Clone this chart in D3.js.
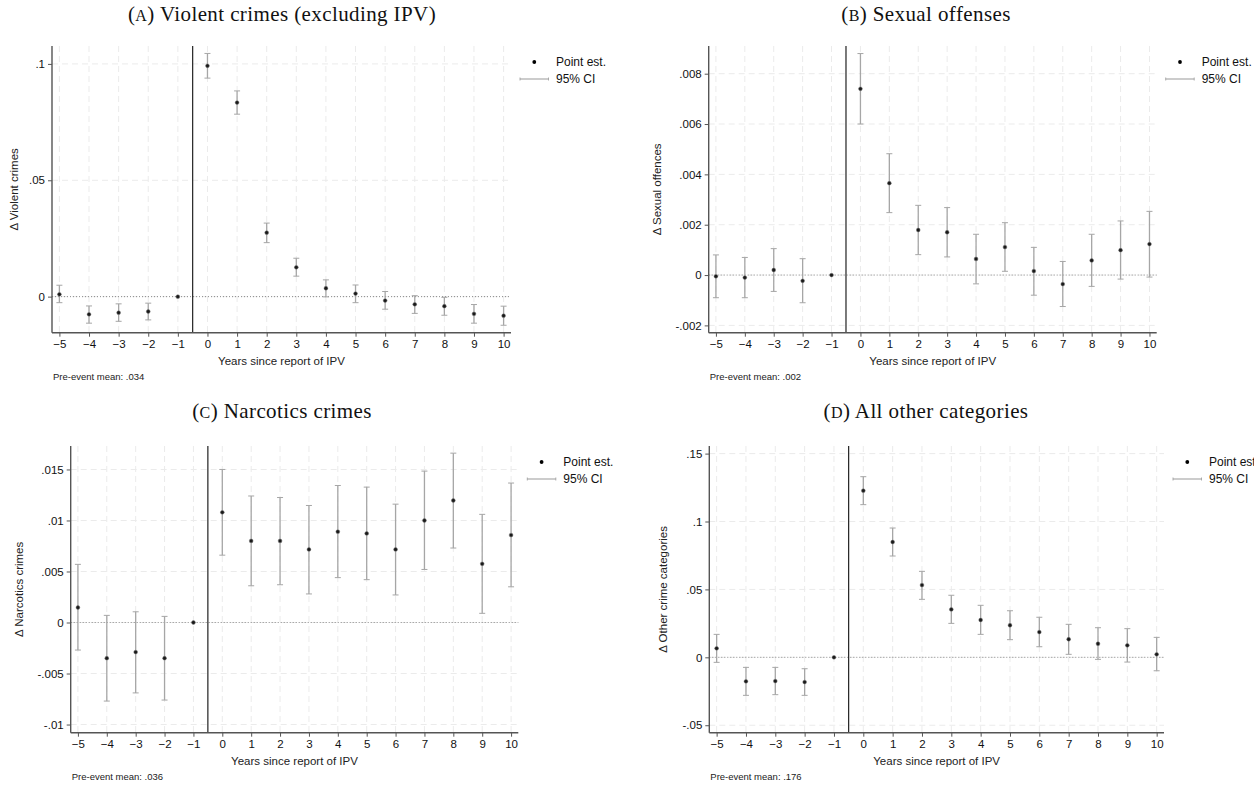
<!DOCTYPE html>
<html><head><meta charset="utf-8">
<script src="https://cdn.jsdelivr.net/npm/d3@7"></script>
<style>
body{margin:0;background:#fff;}
svg{display:block;}
</style></head>
<body>
<svg id="chart" width="1254" height="787"></svg>
<script>
// ---------- DATA ----------
const years = [-5,-4,-3,-2,-1,0,1,2,3,4,5,6,7,8,9,10];

const violentEst   = [0.0010,-0.0076,-0.0069,-0.0064,0,0.0992,0.0834,0.0275,0.0126,0.0036,0.0013,-0.0017,-0.0033,-0.0041,-0.0074,-0.0082];
const violentLo    = [-0.0026,-0.0114,-0.0106,-0.0100,0,0.0939,0.0784,0.0232,0.0088,-0.0001,-0.0026,-0.0054,-0.0072,-0.0080,-0.0114,-0.0123];
const violentHi    = [0.0049,-0.0040,-0.0031,-0.0028,0,0.1045,0.0884,0.0316,0.0165,0.0072,0.0050,0.0022,0.0004,-0.0003,-0.0034,-0.0041];

const sexualEst    = [-0.00005,-0.0001,0.0002,-0.00023,0,0.0074,0.00365,0.00179,0.0017,0.00064,0.00111,0.00016,-0.00036,0.00058,0.00099,0.00123];
const sexualLo     = [-0.0009,-0.0009,-0.00065,-0.0011,0,0.0060,0.00248,0.00081,0.00072,-0.00035,0.00015,-0.0008,-0.00125,-0.00045,-0.00016,-0.00008];
const sexualHi     = [0.0008,0.0007,0.00105,0.00065,0,0.0088,0.00482,0.00277,0.00268,0.00162,0.00208,0.0011,0.00054,0.00162,0.00215,0.00253];

const narcoticsEst = [0.00147,-0.0035,-0.0029,-0.0035,0,0.0108,0.0080,0.0080,0.00716,0.0089,0.00873,0.00716,0.0100,0.01196,0.00575,0.00857];
const narcoticsLo  = [-0.0027,-0.0077,-0.0069,-0.0076,0,0.0066,0.0036,0.0037,0.0028,0.0044,0.0042,0.0027,0.0052,0.0073,0.0009,0.0035];
const narcoticsHi  = [0.0057,0.0007,0.00105,0.0006,0,0.0150,0.0124,0.01225,0.01147,0.01343,0.01327,0.0116,0.01484,0.0166,0.0106,0.01367];

const otherEst     = [0.0066,-0.0177,-0.0175,-0.0182,0,0.1227,0.0849,0.0532,0.0353,0.0275,0.0236,0.0186,0.0133,0.0100,0.0088,0.0022];
const otherLo      = [-0.0037,-0.0280,-0.0275,-0.0280,0,0.1124,0.0746,0.0427,0.0250,0.0169,0.0130,0.0078,0.0022,-0.0015,-0.0035,-0.0099];
const otherHi      = [0.0169,-0.0074,-0.0074,-0.0084,0,0.1330,0.0952,0.0633,0.0457,0.0383,0.0343,0.0295,0.0243,0.0218,0.0211,0.0147];

const violentTicks   = [0, 0.05, 0.1];
const violentLabels  = ["0", ".05", ".1"];
const sexualTicks    = [-0.002, 0, 0.002, 0.004, 0.006, 0.008];
const sexualLabels   = ["-.002", "0", ".002", ".004", ".006", ".008"];
const narcoticsTicks = [-0.01, -0.005, 0, 0.005, 0.01, 0.015];
const narcoticsLabels= ["-.01", "-.005", "0", ".005", ".01", ".015"];
const otherTicks     = [-0.05, 0, 0.05, 0.1, 0.15];
const otherLabels    = ["-.05", "0", ".05", ".1", ".15"];

const titlesLetter = ["A","B","C","D"];
const titlesText   = [" Violent crimes (excluding IPV)", " Sexual offenses", " Narcotics crimes", " All other categories"];
const yTitles      = ["\u0394 Violent crimes", "\u0394 Sexual offences", "\u0394 Narcotics crimes", "\u0394 Other crime categories"];
const preMeans     = ["Pre-event mean: .034", "Pre-event mean: .002", "Pre-event mean: .036", "Pre-event mean: .176"];
const xTitle       = "Years since report of IPV";
const legendLabels = ["Point est.", "95% CI"];

// ---------- LAYOUT (positions only) ----------
const panels = [
  {est:violentEst, lo:violentLo, hi:violentHi, ticks:violentTicks, labels:violentLabels,
   x0:52, x1:511, y0:46, y1:332.7, dom:[-0.0155,0.1077], titleX:282, titleY:21, yTitleX:14},
  {est:sexualEst, lo:sexualLo, hi:sexualHi, ticks:sexualTicks, labels:sexualLabels,
   x0:708.7, x1:1156.7, y0:46, y1:332.7, dom:[-0.00229,0.0091], titleX:926, titleY:21, yTitleX:657},
  {est:narcoticsEst, lo:narcoticsLo, hi:narcoticsHi, ticks:narcoticsTicks, labels:narcoticsLabels,
   x0:70.7, x1:518.3, y0:446, y1:732.7, dom:[-0.0108,0.0173], titleX:282, titleY:418, yTitleX:19},
  {est:otherEst, lo:otherLo, hi:otherHi, ticks:otherTicks, labels:otherLabels,
   x0:709.3, x1:1164, y0:446, y1:732.7, dom:[-0.0555,0.1556], titleX:926, titleY:418, yTitleX:663}
];

const svg = d3.select("#chart");
const sans = "'Liberation Sans', Arial, Helvetica, sans-serif";
const serif = "'Liberation Serif', 'DejaVu Serif', serif";

panels.forEach((p, i) => {
  const g = svg.append("g");
  const x = d3.scaleLinear().domain([-5.25, 10.25]).range([p.x0, p.x1]);
  const y = d3.scaleLinear().domain(p.dom).range([p.y1, p.y0]);

  // grid
  g.append("g").selectAll("line").data(years).join("line")
    .attr("x1", d => x(d)).attr("x2", d => x(d)).attr("y1", p.y0).attr("y2", p.y1)
    .attr("stroke", "#ebebeb").attr("stroke-width", 1).attr("stroke-dasharray", "6,4");
  g.append("g").selectAll("line").data(p.ticks).join("line")
    .attr("x1", p.x0).attr("x2", p.x1).attr("y1", d => y(d)).attr("y2", d => y(d))
    .attr("stroke", "#ebebeb").attr("stroke-width", 1).attr("stroke-dasharray", "6,4");

  // zero reference (dotted)
  g.append("line").attr("x1", p.x0).attr("x2", p.x1).attr("y1", y(0)).attr("y2", y(0))
    .attr("stroke", "#8a8a8a").attr("stroke-width", 1).attr("stroke-dasharray", "1,2");

  // event line at -0.5
  g.append("line").attr("x1", x(-0.5)).attr("x2", x(-0.5)).attr("y1", p.y0).attr("y2", p.y1)
    .attr("stroke", "#222").attr("stroke-width", 1.2);

  // axes
  const yAxis = d3.axisLeft(y).tickValues(p.ticks).tickFormat((d, k) => p.labels[k]).tickSize(4).tickPadding(3);
  const ya = g.append("g").attr("transform", `translate(${p.x0},0)`).call(yAxis);
  const xAxis = d3.axisBottom(x).tickValues(years).tickFormat(d3.format("d")).tickSize(4).tickPadding(3);
  const xa = g.append("g").attr("transform", `translate(0,${p.y1})`).call(xAxis);
  [ya, xa].forEach(a => {
    a.select(".domain").attr("stroke", "#555").attr("stroke-width", 1.4);
    a.selectAll(".tick line").attr("stroke", "#555").attr("stroke-width", 1);
    a.selectAll(".tick text").attr("fill", "#111").style("font-family", sans).style("font-size", "11.5px");
  });
  ya.select(".domain").attr("d", `M0,${p.y0}V${p.y1}`);
  xa.select(".domain").attr("d", `M${p.x0},0H${p.x1}`);

  // CI bars
  const ci = g.append("g").selectAll("g").data(years.map((yr, k) => ({yr, lo:p.lo[k], hi:p.hi[k], est:p.est[k]}))).join("g");
  ci.filter(d => d.hi !== d.lo).append("line")
    .attr("x1", d => x(d.yr)).attr("x2", d => x(d.yr)).attr("y1", d => y(d.lo)).attr("y2", d => y(d.hi))
    .attr("stroke", "#a6a6a6").attr("stroke-width", 1.3);
  ["lo", "hi"].forEach(key => {
    ci.filter(d => d.hi !== d.lo).append("line")
      .attr("x1", d => x(d.yr) - 3).attr("x2", d => x(d.yr) + 3).attr("y1", d => y(d[key])).attr("y2", d => y(d[key]))
      .attr("stroke", "#a6a6a6").attr("stroke-width", 1);
  });
  ci.append("circle").attr("cx", d => x(d.yr)).attr("cy", d => y(d.est)).attr("r", 1.9)
    .attr("fill", "#1a1a1a").attr("stroke", "#777").attr("stroke-width", 0.5);

  // titles
  const t = g.append("text").attr("x", p.titleX).attr("y", p.titleY).attr("text-anchor", "middle")
    .style("font-family", serif).style("font-size", "21px").style("letter-spacing", "0.4px").attr("fill", "#111");
  t.append("tspan").text("(");
  t.append("tspan").style("font-size", "16px").text(titlesLetter[i]);
  t.append("tspan").text(")" + titlesText[i]);

  // y title
  g.append("text").attr("transform", `translate(${p.yTitleX},${(p.y0 + p.y1) / 2}) rotate(-90)`)
    .attr("text-anchor", "middle").attr("dy", "0.35em")
    .style("font-family", sans).style("font-size", "11.5px").attr("fill", "#222").text(yTitles[i]);

  // x title
  g.append("text").attr("x", (x(-5) + x(10)) / 2).attr("y", p.y1 + 32).attr("text-anchor", "middle")
    .style("font-family", sans).style("font-size", "11.5px").attr("fill", "#222").text(xTitle);

  // pre-event mean
  g.append("text").attr("x", p.x0 + 1).attr("y", p.y1 + 47)
    .style("font-family", sans).style("font-size", "9.5px").attr("fill", "#222").text(preMeans[i]);

  // legend
  const lg = g.append("g");
  lg.append("circle").attr("cx", p.x1 + 23.3).attr("cy", p.y0 + 16).attr("r", 1.9).attr("fill", "#000");
  lg.append("line").attr("x1", p.x1 + 9).attr("x2", p.x1 + 37.5).attr("y1", p.y0 + 33).attr("y2", p.y0 + 33)
    .attr("stroke", "#999").attr("stroke-width", 1);
  [p.x1 + 9, p.x1 + 37.5].forEach(cx => lg.append("line").attr("x1", cx).attr("x2", cx)
    .attr("y1", p.y0 + 31.5).attr("y2", p.y0 + 34.5).attr("stroke", "#999").attr("stroke-width", 0.8));
  legendLabels.forEach((lab, k) => lg.append("text").attr("x", p.x1 + 45).attr("y", p.y0 + 16 + k * 17)
    .attr("dy", "0.35em").style("font-family", sans).style("font-size", "12px").attr("fill", "#111").text(lab));
});
</script>
</body></html>
